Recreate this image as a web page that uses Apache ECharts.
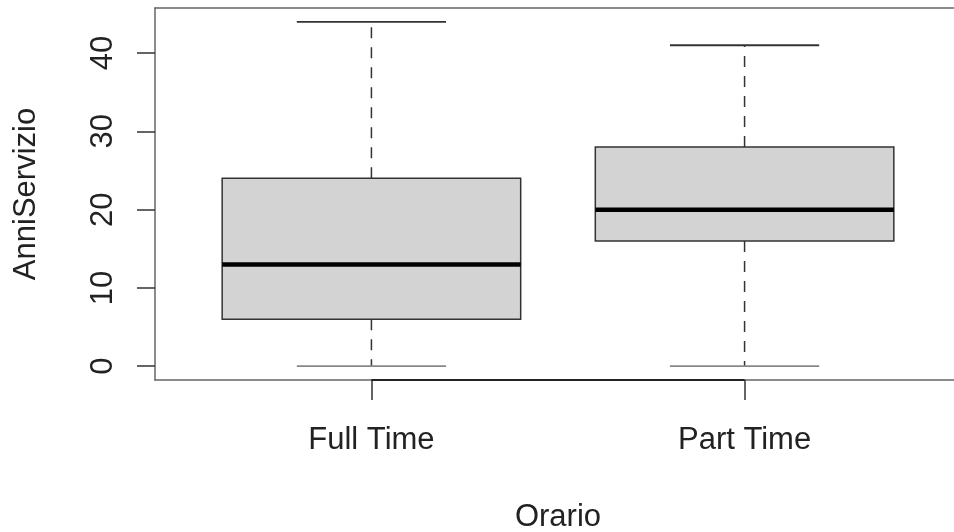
<!DOCTYPE html>
<html>
<head>
<meta charset="utf-8">
<script src="https://cdn.jsdelivr.net/npm/echarts@6/dist/echarts.min.js"></script>
<style>
html,body{margin:0;padding:0;background:#fff;overflow:hidden;}
#chart{width:954px;height:532px;}
</style>
</head>
<body>
<div id="chart"></div>
<script>
const categories = ['Full Time', 'Part Time'];
const whiskerLow = [0, 0];
const q1 = [6, 16];
const median = [13, 20];
const q3 = [24, 28];
const whiskerHigh = [44, 41];
const yTicks = [0, 10, 20, 30, 40];
const xTitle = 'Orario';
const yTitle = 'AnniServizio';

const FONT = "'Liberation Sans', Arial, Helvetica, sans-serif";
const yMin = -1.76, yMax = 45.76;
const xMin = 0.42, xMax = 2.58;

const boxData = categories.map((c, i) => [i + 1, whiskerLow[i], q1[i], median[i], q3[i], whiskerHigh[i]]);

function renderItem(params, api) {
  const x = api.value(0);
  const lo = api.value(1), a = api.value(2), m = api.value(3), b = api.value(4), hi = api.value(5);
  const halfBox = api.size([0.4, 0])[0];
  const halfCap = api.size([0.2, 0])[0];
  const pLo = api.coord([x, lo]), pA = api.coord([x, a]), pM = api.coord([x, m]);
  const pB = api.coord([x, b]), pHi = api.coord([x, hi]);
  const cx = pA[0];
  const stroke = '#333';
  return {
    type: 'group',
    children: [
      { type: 'line', shape: { x1: cx, y1: pB[1], x2: cx, y2: pHi[1] },
        style: { stroke: stroke, lineWidth: 1.5, lineDash: [11, 9] } },
      { type: 'line', shape: { x1: cx, y1: pA[1], x2: cx, y2: pLo[1] },
        style: { stroke: stroke, lineWidth: 1.5, lineDash: [11, 9] } },
      { type: 'line', shape: { x1: cx - halfCap, y1: pHi[1], x2: cx + halfCap, y2: pHi[1] },
        style: { stroke: stroke, lineWidth: 1.8 } },
      { type: 'line', shape: { x1: cx - halfCap, y1: pLo[1], x2: cx + halfCap, y2: pLo[1] },
        style: { stroke: '#888', lineWidth: 1.8 } },
      { type: 'rect', shape: { x: cx - halfBox, y: pB[1], width: 2 * halfBox, height: pA[1] - pB[1] },
        style: { fill: '#d3d3d3', stroke: stroke, lineWidth: 1.5 } },
      { type: 'line', shape: { x1: cx - halfBox, y1: pM[1], x2: cx + halfBox, y2: pM[1] },
        style: { stroke: '#000', lineWidth: 4.5 } }
    ]
  };
}

const frameLine = { show: true, onZero: false, lineStyle: { color: '#666', width: 1.5 } };

const chart = echarts.init(document.getElementById('chart'), null, { renderer: 'canvas' });
chart.setOption({
  animation: false,
  backgroundColor: '#fff',
  textStyle: { fontFamily: FONT },
  grid: { left: 155, top: 8, right: -7, bottom: 152, show: false, containLabel: false,
          outerBoundsMode: 'none' },
  xAxis: [{
    type: 'value', min: xMin, max: xMax, position: 'bottom',
    splitLine: { show: false },
    axisLine: frameLine,
    axisTick: { show: true, length: 20, customValues: [1, 2], lineStyle: { color: '#333', width: 1.5 } },
    axisLabel: { customValues: [1, 2], margin: 45, fontSize: 31, color: '#222', fontFamily: FONT,
                 formatter: v => categories[Math.round(v) - 1] || '' },
    name: xTitle, nameLocation: 'middle', nameGap: 122,
    nameTextStyle: { fontSize: 31, color: '#222', fontFamily: FONT }
  }, {
    type: 'value', min: xMin, max: xMax, position: 'top',
    splitLine: { show: false },
    axisLine: frameLine,
    axisTick: { show: false },
    axisLabel: { show: false }
  }],
  yAxis: {
    type: 'value', min: yMin, max: yMax,
    splitLine: { show: false },
    axisLine: frameLine,
    axisTick: { show: true, length: 18, customValues: yTicks, lineStyle: { color: '#333', width: 1.5 } },
    axisLabel: { customValues: yTicks, rotate: 90, margin: 36, fontSize: 31, color: '#222', fontFamily: FONT },
    name: yTitle, nameLocation: 'middle', nameGap: 113, nameRotate: 90,
    nameTextStyle: { fontSize: 31, color: '#222', fontFamily: FONT }
  },
  series: [
    { type: 'custom', renderItem: renderItem, data: boxData, encode: { x: 0, y: [1, 2, 3, 4, 5] }, clip: false },
    { type: 'line', data: [[1, yMin], [2, yMin]], showSymbol: false, symbol: 'none',
      lineStyle: { color: '#222', width: 2 }, silent: true }
  ]
});
</script>
</body>
</html>
